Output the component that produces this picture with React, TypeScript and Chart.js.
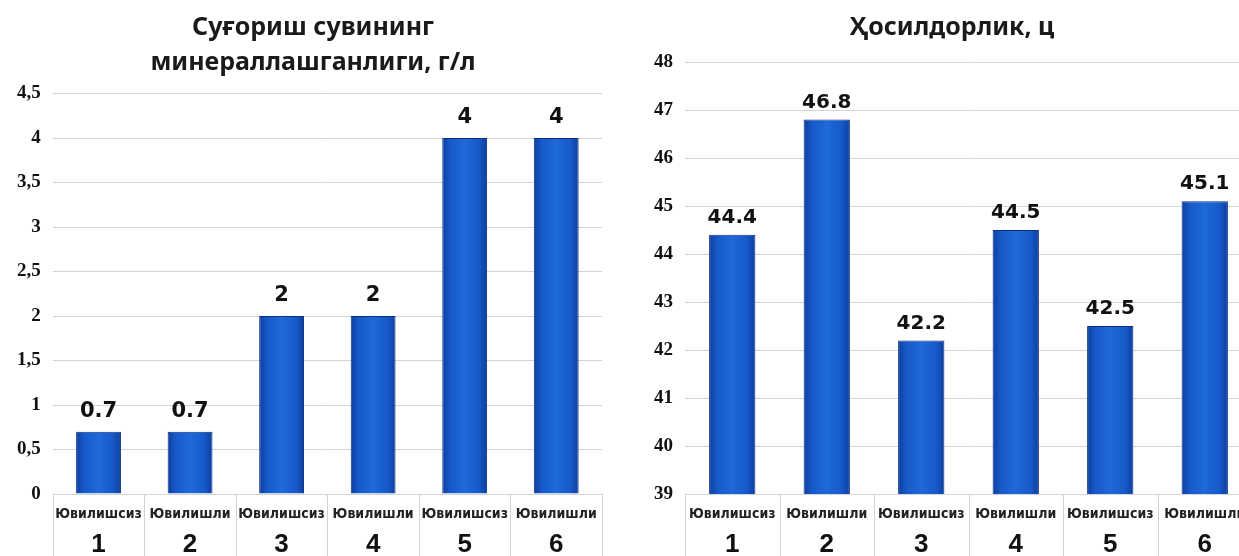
import React, { useEffect, useRef } from 'react';
import { Chart, registerables } from 'chart.js';

Chart.register(...registerables);

// ---- data ----
const rowLabels = ['Ювилишсиз', 'Ювилишли', 'Ювилишсиз', 'Ювилишли', 'Ювилишсиз', 'Ювилишли'];
const variantLabels = ['1', '2', '3', '4', '5', '6'];
const mineralization = [0.7, 0.7, 2, 2, 4, 4];
const yieldValues = [44.4, 46.8, 42.2, 44.5, 42.5, 45.1];
const leftTitle = ['Суғориш сувининг', 'минераллашганлиги, г/л'];
const rightTitle = ['Ҳосилдорлик, ц'];
const leftTickLabels = ['0', '0,5', '1', '1,5', '2', '2,5', '3', '3,5', '4', '4,5'];
const rightTickLabels = ['39', '40', '41', '42', '43', '44', '45', '46', '47', '48'];

const BAR_PCT = 0.49;
const GRID = '#d3d3d3';

function makeConfig(opts: {
  title: string[];
  values: number[];
  min: number;
  max: number;
  step: number;
  tickLabels: string[];
  padLeft: number;
  rightSpacer: number;
  titlePadTop: number;
  titlePadBottom: number;
  labelSize: number;
  labelOffset: number;
}): any {
  const n = rowLabels.length;
  const valueLabels = {
    id: 'valueLabels',
    afterDatasetsDraw(chart: any) {
      const ctx = chart.ctx;
      const meta = chart.getDatasetMeta(0);
      ctx.save();
      ctx.font = `bold ${opts.labelSize}px "DejaVu Sans", sans-serif`;
      ctx.fillStyle = '#111';
      ctx.textAlign = 'center';
      ctx.textBaseline = 'middle';
      meta.data.forEach((el: any, i: number) => {
        ctx.fillText(String(opts.values[i]), el.x, el.y - opts.labelOffset);
      });
      ctx.restore();
    },
  };
  const separators = {
    id: 'separators',
    afterDraw(chart: any) {
      const xs = chart.scales.x;
      const area = chart.chartArea;
      const ctx = chart.ctx;
      const half = (xs.getPixelForValue(1) - xs.getPixelForValue(0)) / 2;
      ctx.save();
      ctx.strokeStyle = GRID;
      ctx.lineWidth = 1;
      for (let i = 0; i <= n; i++) {
        const x = Math.round(xs.getPixelForValue(Math.min(i, n - 1)) + (i < n ? -half : half)) + 0.5;
        ctx.beginPath();
        ctx.moveTo(x, area.bottom);
        ctx.lineTo(x, chart.height);
        ctx.stroke();
      }
      ctx.restore();
    },
  };
  return {
    type: 'bar',
    data: {
      labels: rowLabels,
      datasets: [
        {
          data: opts.values,
          xAxisID: 'x',
          yAxisID: 'y',
          categoryPercentage: 1,
          barPercentage: BAR_PCT,
          borderColor: '#0b2f86',
          borderWidth: 1,
          backgroundColor: (c: any) => {
            const chart = c.chart;
            const xs = chart.scales && chart.scales.x;
            if (!xs || c.type !== 'data' || !chart.chartArea) return '#1860d0';
            const cx = xs.getPixelForValue(c.dataIndex);
            const half = (chart.chartArea.width / n) * BAR_PCT / 2;
            const g = chart.ctx.createLinearGradient(cx - half, 0, cx + half, 0);
            g.addColorStop(0, '#0c3f9e');
            g.addColorStop(0.18, '#1759c8');
            g.addColorStop(0.5, '#1f69d8');
            g.addColorStop(0.82, '#1759c8');
            g.addColorStop(1, '#0c3f9e');
            return g;
          },
        },
      ],
    },
    options: {
      responsive: false,
      animation: false,
      devicePixelRatio: 1,
      layout: { padding: { left: opts.padLeft, right: 0, top: 0, bottom: 0 } },
      plugins: {
        legend: { display: false },
        tooltip: { enabled: false },
        title: {
          display: true,
          text: opts.title,
          color: '#1a1a1a',
          font: { family: '"Noto Sans", sans-serif', size: 25, weight: 'bold', lineHeight: 1.4 },
          padding: { top: opts.titlePadTop, bottom: opts.titlePadBottom },
        },
      },
      scales: {
        x: {
          type: 'category',
          position: 'bottom',
          offset: true,
          grid: { display: false, drawTicks: false, drawOnChartArea: false },
          border: { display: false },
          ticks: {
            autoSkip: false,
            maxRotation: 0,
            minRotation: 0,
            padding: 13,
            color: '#222',
            font: { family: '"DejaVu Sans Condensed", "Liberation Sans", sans-serif', size: 14, weight: 'bold', lineHeight: 1 },
          },
        },
        x2: {
          type: 'category',
          position: 'bottom',
          labels: variantLabels,
          offset: true,
          grid: { display: false, drawTicks: false, drawOnChartArea: false },
          border: { display: false },
          ticks: {
            autoSkip: false,
            maxRotation: 0,
            minRotation: 0,
            padding: 9.7,
            color: '#111',
            font: { family: '"Liberation Sans", sans-serif', size: 26, weight: 'bold', lineHeight: 0.1 },
          },
        },
        y: {
          min: opts.min,
          max: opts.max,
          grid: { color: GRID, lineWidth: 1, drawTicks: false },
          border: { display: false },
          ticks: {
            stepSize: opts.step,
            padding: 12,
            color: '#111',
            font: { family: '"Liberation Serif", serif', size: 19, weight: 'bold' },
            callback: (_v: any, i: number) => opts.tickLabels[i],
          },
        },
        spacer: {
          type: 'linear',
          position: 'right',
          grid: { display: false, drawTicks: false },
          border: { display: false },
          ticks: { display: false },
          afterFit: (scale: any) => {
            scale.width = opts.rightSpacer;
          },
        },
      },
    },
    plugins: [valueLabels, separators],
  };
}

function BarChart(props: { cfg: any; width: number; height: number; left: number }) {
  const ref = useRef<HTMLCanvasElement | null>(null);
  useEffect(() => {
    if (!ref.current) return;
    const chart = new Chart(ref.current, props.cfg);
    return () => chart.destroy();
  }, []);
  return (
    <canvas
      ref={ref}
      width={props.width}
      height={props.height}
      style={{ position: 'absolute', left: props.left, top: 0, width: props.width, height: props.height }}
    />
  );
}

export default function App() {
  useEffect(() => {
    document.body.style.margin = '0';
    document.body.style.background = '#fff';
  }, []);
  const leftCfg = makeConfig({
    title: leftTitle,
    values: mineralization,
    min: 0,
    max: 4.5,
    step: 0.5,
    tickLabels: leftTickLabels,
    padLeft: 5,
    rightSpacer: 19,
    titlePadTop: 10.5,
    titlePadBottom: 13,
    labelSize: 21,
    labelOffset: 20,
  });
  const rightCfg = makeConfig({
    title: rightTitle,
    values: yieldValues,
    min: 39,
    max: 48,
    step: 1,
    tickLabels: rightTickLabels,
    padLeft: 22,
    rightSpacer: 10,
    titlePadTop: 10.5,
    titlePadBottom: 16.5,
    labelSize: 20,
    labelOffset: 17,
  });
  return (
    <div style={{ position: 'relative', width: 1239, height: 556, overflow: 'hidden', background: '#fff' }}>
      <BarChart cfg={leftCfg} width={621} height={556} left={0} />
      <BarChart cfg={rightCfg} width={642} height={556} left={620} />
    </div>
  );
}
